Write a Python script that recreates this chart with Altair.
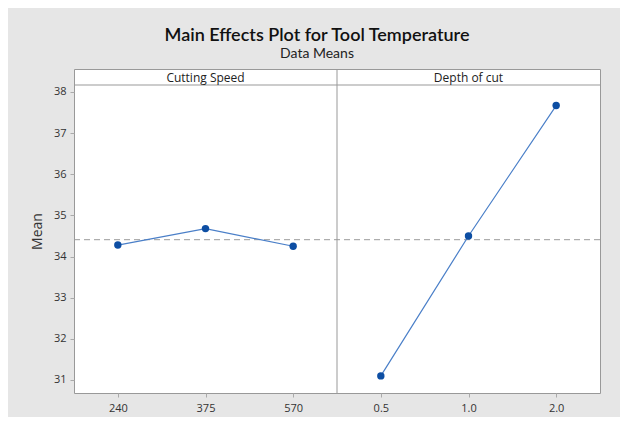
import altair as alt
import pandas as pd

# ---- data ----
factors = ["Cutting Speed"] * 3 + ["Depth of cut"] * 3
levels = ["240", "375", "570", "0.5", "1.0", "2.0"]
means = [34.28, 34.68, 34.25, 31.10, 34.50, 37.67]
grand_mean = 34.41
panel_titles = ["Cutting Speed", "Depth of cut"]
panel_title_at = ["375", "1.0"]
y_ticks = [31, 32, 33, 34, 35, 36, 37, 38]

df = pd.DataFrame({"factor": factors, "level": levels, "mean": means})
hdr = pd.DataFrame({"label": panel_titles, "level": panel_title_at})
gm = pd.DataFrame({"gm": [grand_mean]})

W, H = 526, 324
HEADER = 16

x_enc = alt.X(
    "level:N",
    sort=levels,
    scale=alt.Scale(type="point", padding=0.5, domain=levels),
    axis=alt.Axis(title=None, labelAngle=0, labelFontSize=11, labelColor="#333",
                  labelFont="Open Sans", tickColor="#aaa", tickSize=4,
                  domain=False, labelPadding=5),
)
y_scale = alt.Scale(domain=[30.684, 38.559], nice=False, zero=False)
y_enc = alt.Y(
    "mean:Q",
    scale=y_scale,
    axis=alt.Axis(title="Mean", values=y_ticks, grid=False, domain=False,
                  labelFontSize=11, labelColor="#333", labelFont="Open Sans",
                  tickColor="#aaa", tickSize=4, labelPadding=4,
                  titleFont="Open Sans", titleFontSize=14, titleFontWeight="normal",
                  titleColor="#333", titlePadding=9),
)

base = alt.Chart(df)

mean_line = alt.Chart(gm).mark_rule(color="#9a9a9a", strokeDash=[6, 4], strokeWidth=1).encode(
    y=alt.Y("gm:Q", scale=y_scale), x=alt.value(0), x2=alt.value(W)
)

lines = base.mark_line(color="#4a7fc8", strokeWidth=1.2).encode(
    x=x_enc, y=y_enc, detail="factor:N"
)
pts = base.mark_point(filled=True, color="#0d4ea3", size=55, opacity=1).encode(
    x=x_enc, y=y_enc
)

header_rule = alt.Chart(gm).mark_rule(color="#999", strokeWidth=1).encode(
    y=alt.value(HEADER), x=alt.value(0), x2=alt.value(W)
)
divider = alt.Chart(gm).mark_rule(color="#999", strokeWidth=1).encode(
    x=alt.value(W / 2), y=alt.value(0), y2=alt.value(H)
)
header_text = alt.Chart(hdr).mark_text(
    font="Open Sans", fontSize=12, color="#222", baseline="middle"
).encode(
    x=alt.X("level:N", sort=levels, scale=alt.Scale(type="point", padding=0.5, domain=levels)),
    y=alt.value(HEADER / 2 + 0.5),
    text="label:N",
)

chart = alt.layer(mean_line, lines, pts, header_rule, divider, header_text).properties(
    width=W,
    height=H,
    autosize=alt.AutoSizeParams(type="none"),
    padding={"left": 66, "top": 61, "right": 20, "bottom": 24},
    background="#e6e6e6",
    title=alt.TitleParams(
        text="Main Effects Plot for Tool Temperature",
        subtitle="Data Means",
        font="Lato",
        fontSize=18,
        fontWeight=600,
        color="#111",
        subtitleFont="Lato",
        subtitleFontSize=14,
        subtitleColor="#222",
        subtitlePadding=2,
        anchor="middle",
        dx=-20,
        offset=8,
    ),
).configure_view(stroke="#999", strokeWidth=1, fill="white")

chart.save("out.html", embed_options={"renderer": "svg", "actions": False})
